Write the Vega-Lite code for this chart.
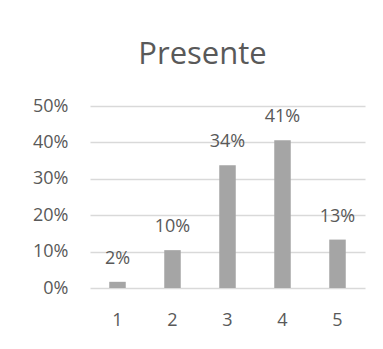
{
  "$schema": "https://vega.github.io/schema/vega-lite/v6.json",
  "autosize": "none",
  "width": 275,
  "height": 182,
  "padding": {"left": 90, "top": 106, "right": 18, "bottom": 61},
  "background": "white",
  "title": {
    "text": "Presente",
    "fontSize": 31,
    "font": "Open Sans",
    "fontWeight": "normal",
    "color": "#595959",
    "baseline": "alphabetic",
    "offset": 2,
    "dx": -25
  },
  "config": {
    "view": {"stroke": null},
    "font": "Open Sans"
  },
  "data": {
    "values": [
      {"categoria": "1", "valor": 0.017},
      {"categoria": "2", "valor": 0.104},
      {"categoria": "3", "valor": 0.337},
      {"categoria": "4", "valor": 0.406},
      {"categoria": "5", "valor": 0.133}
    ]
  },
  "encoding": {
    "x": {
      "field": "categoria",
      "type": "ordinal",
      "scale": {"paddingInner": 0.7, "paddingOuter": 0.35},
      "axis": {
        "title": null,
        "labelAngle": 0,
        "domain": false,
        "ticks": false,
        "labelPadding": 23,
        "labelFontSize": 18,
        "labelColor": "#595959",
        "labelFont": "Open Sans"
      }
    },
    "y": {
      "field": "valor",
      "type": "quantitative",
      "scale": {"domain": [0, 0.5], "nice": false},
      "axis": {
        "title": null,
        "values": [0, 0.1, 0.2, 0.3, 0.4, 0.5],
        "format": ".0%",
        "domain": false,
        "ticks": false,
        "labelPadding": 22,
        "labelFontSize": 18,
        "labelColor": "#595959",
        "labelFont": "Open Sans",
        "gridColor": "#d9d9d9",
        "gridWidth": 1.3
      }
    }
  },
  "layer": [
    {"mark": {"type": "bar", "color": "#a5a5a5"}},
    {
      "mark": {
        "type": "text",
        "baseline": "bottom",
        "dy": -14,
        "fontSize": 18,
        "color": "#595959",
        "font": "Open Sans"
      },
      "encoding": {
        "text": {"field": "valor", "type": "quantitative", "format": ".0%"}
      }
    }
  ]
}
